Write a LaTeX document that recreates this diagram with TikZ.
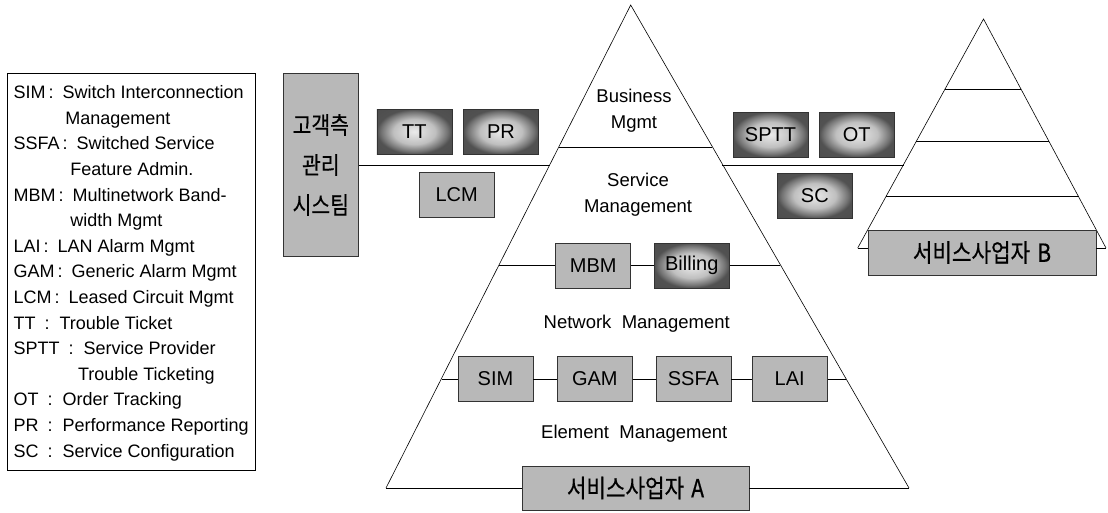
\documentclass[tikz,border=0pt]{standalone}
\usepackage{fontspec}
\setmainfont{Liberation Sans}
\newfontfamily\kr[FakeStretch=0.85,FakeBold=0.5]{Noto Sans CJK KR}
\newcommand\colA{\kern3pt:\kern9pt}
\newcommand\colB{\kern9pt:\kern10pt}
\pgfdeclareradialshading{glow}{\pgfpoint{0bp}{0bp}}{%
  color(0bp)=(black!8); color(14bp)=(black!25); color(22bp)=(black!55);
  color(25bp)=(black!68); color(50bp)=(black!72)}
\begin{document}
\begin{tikzpicture}[x=1pt,y=-1pt,line width=0.6pt]
\tikzset{
  box/.style={draw=black!80, line width=0.6pt, minimum width=75pt,
    minimum height=45pt, inner sep=0pt, font=\fontsize{20}{22}\selectfont},
  plainbox/.style={box, fill=black!28},
  glowbox/.style={box, shading=glow},
  layer/.style={font=\fontsize{18.5}{25.6}\selectfont, align=center, inner sep=0pt},
  legline/.style={anchor=base west, inner sep=0pt, font=\fontsize{18}{20}\selectfont},
  provider/.style={box, fill=black!28, minimum width=227pt, minimum height=44pt,
    font=\kr\fontsize{25}{28}\selectfont},
}
\useasboundingbox (0,0) rectangle (1108,512);

% ---------- legend ----------
\node[draw, line width=0.6pt, anchor=north west, minimum width=248pt,
      minimum height=397pt, inner sep=0pt] (legend) at (7.3,73.3) {};
\foreach \dx/\txt [count=\i] in {
  13.3/{SIM\colA Switch Interconnection},
  65/{Management},
  13.3/{SSFA\colA Switched Service},
  70/{Feature Admin.},
  13.3/{MBM\colA Multinetwork Band-},
  70/{width Mgmt},
  13.3/{LAI\colA LAN Alarm Mgmt},
  13.3/{GAM\colA Generic Alarm Mgmt},
  13.3/{LCM\colA Leased Circuit Mgmt},
  13.3/{TT\colB Trouble Ticket},
  13.3/{SPTT\colB Service Provider},
  77.7/{Trouble Ticketing},
  13.3/{OT\colB Order Tracking},
  13.3/{PR\colB Performance Reporting},
  13.3/{SC\colB Service Configuration}}
  \node[legline] (leg\i) at (\dx, {98.7+25.6*(\i-1)}) {\txt};

% ---------- pyramid of provider A ----------
\coordinate (Atop) at (630.7,5);
\coordinate (Aleft) at (386,488);
\coordinate (Aright) at (909,488);
\draw (Aleft) -- (Atop) -- (Aright);
% layer dividers on the slopes
\coordinate (aL147) at (559.0,147);  \coordinate (aR147) at (712.3,147);
\coordinate (aL165) at (550.2,165);  \coordinate (aR165) at (722.4,165);
\coordinate (aL265) at (499.4,265.5);\coordinate (aR265) at (780.2,265.5);
\coordinate (aL379) at (441.8,379);  \coordinate (aR379) at (845.8,379);
\draw (aL147) -- (aR147);

% ---------- pyramid of provider B ----------
\coordinate (Btop) at (983.5,19);
\coordinate (Bleft) at (857.7,248);
\coordinate (Bright) at (1106,248);
\draw (Bleft) -- (Btop) -- (Bright);
\coordinate (bL165) at (903.6,165);
\draw (944.9,89.3) -- (1021.1,89.3);
\draw (916.3,141.3) -- (1048.9,141.3);
\draw (885.9,196.7) -- (1078.6,196.7);

% ---------- customer side ----------
\node[box, fill=black!28, minimum width=75pt, minimum height=183pt,
      font=\kr\fontsize{24}{40}\selectfont, align=center] (cust) at (320.8,165)
      {고객측\\관리\\시스팀};

% ---------- function boxes ----------
\node[glowbox] (TT)  at (414.3,131.7) {TT};
\node[glowbox] (PR)  at (501,131.7) {PR};
\node[plainbox] (LCM) at (456.7,194.5) {LCM};
\node[glowbox] (SPTT) at (770.5,134.5) {SPTT};
\node[glowbox] (OT)   at (856.7,134.5) {OT};
\node[glowbox] (SC)   at (814.8,195.8) {SC};
\node[plainbox] (MBM) at (593.2,265.5) {MBM};
\node[glowbox] (Billing) at (691.8,265.5) {Billing};
\node[plainbox] (SIM)  at (495.5,379) {SIM};
\node[plainbox] (GAM)  at (594.8,379) {GAM};
\node[plainbox] (SSFA) at (693.4,379) {SSFA};
\node[plainbox] (LAI)  at (789.7,379) {LAI};
\node[provider] (provA) at (635.5,488) {서비스사업자\kern7pt A};
\node[provider, minimum width=228pt, minimum height=45pt] (provB) at (982,252.5) {서비스사업자\kern7pt B};

% ---------- layer names ----------
\node[layer] (bm) at (634,110.5) {Business\\Mgmt};
\node[layer] (sm) at (638,194.5) {Service\\Management};
\node[layer] (nm) at (636.7,323.3) {Network\ \ Management};
\node[layer] (em) at (634.3,433.3) {Element\ \ Management};

% ---------- connectors ----------
\draw (cust.east |- aL165) -- (aL165);
\draw (aR165) -- (bL165);
\draw (aL265) -- (MBM) -- (Billing) -- (aR265);
\draw (aL379) -- (SIM) -- (GAM) -- (SSFA) -- (LAI) -- (aR379);
\draw (Aleft) -- (provA) -- (Aright);
\draw (Bleft) -- (provB.west |- Bleft);
\draw (provB.east |- Bright) -- (Bright);
\end{tikzpicture}
\end{document}
